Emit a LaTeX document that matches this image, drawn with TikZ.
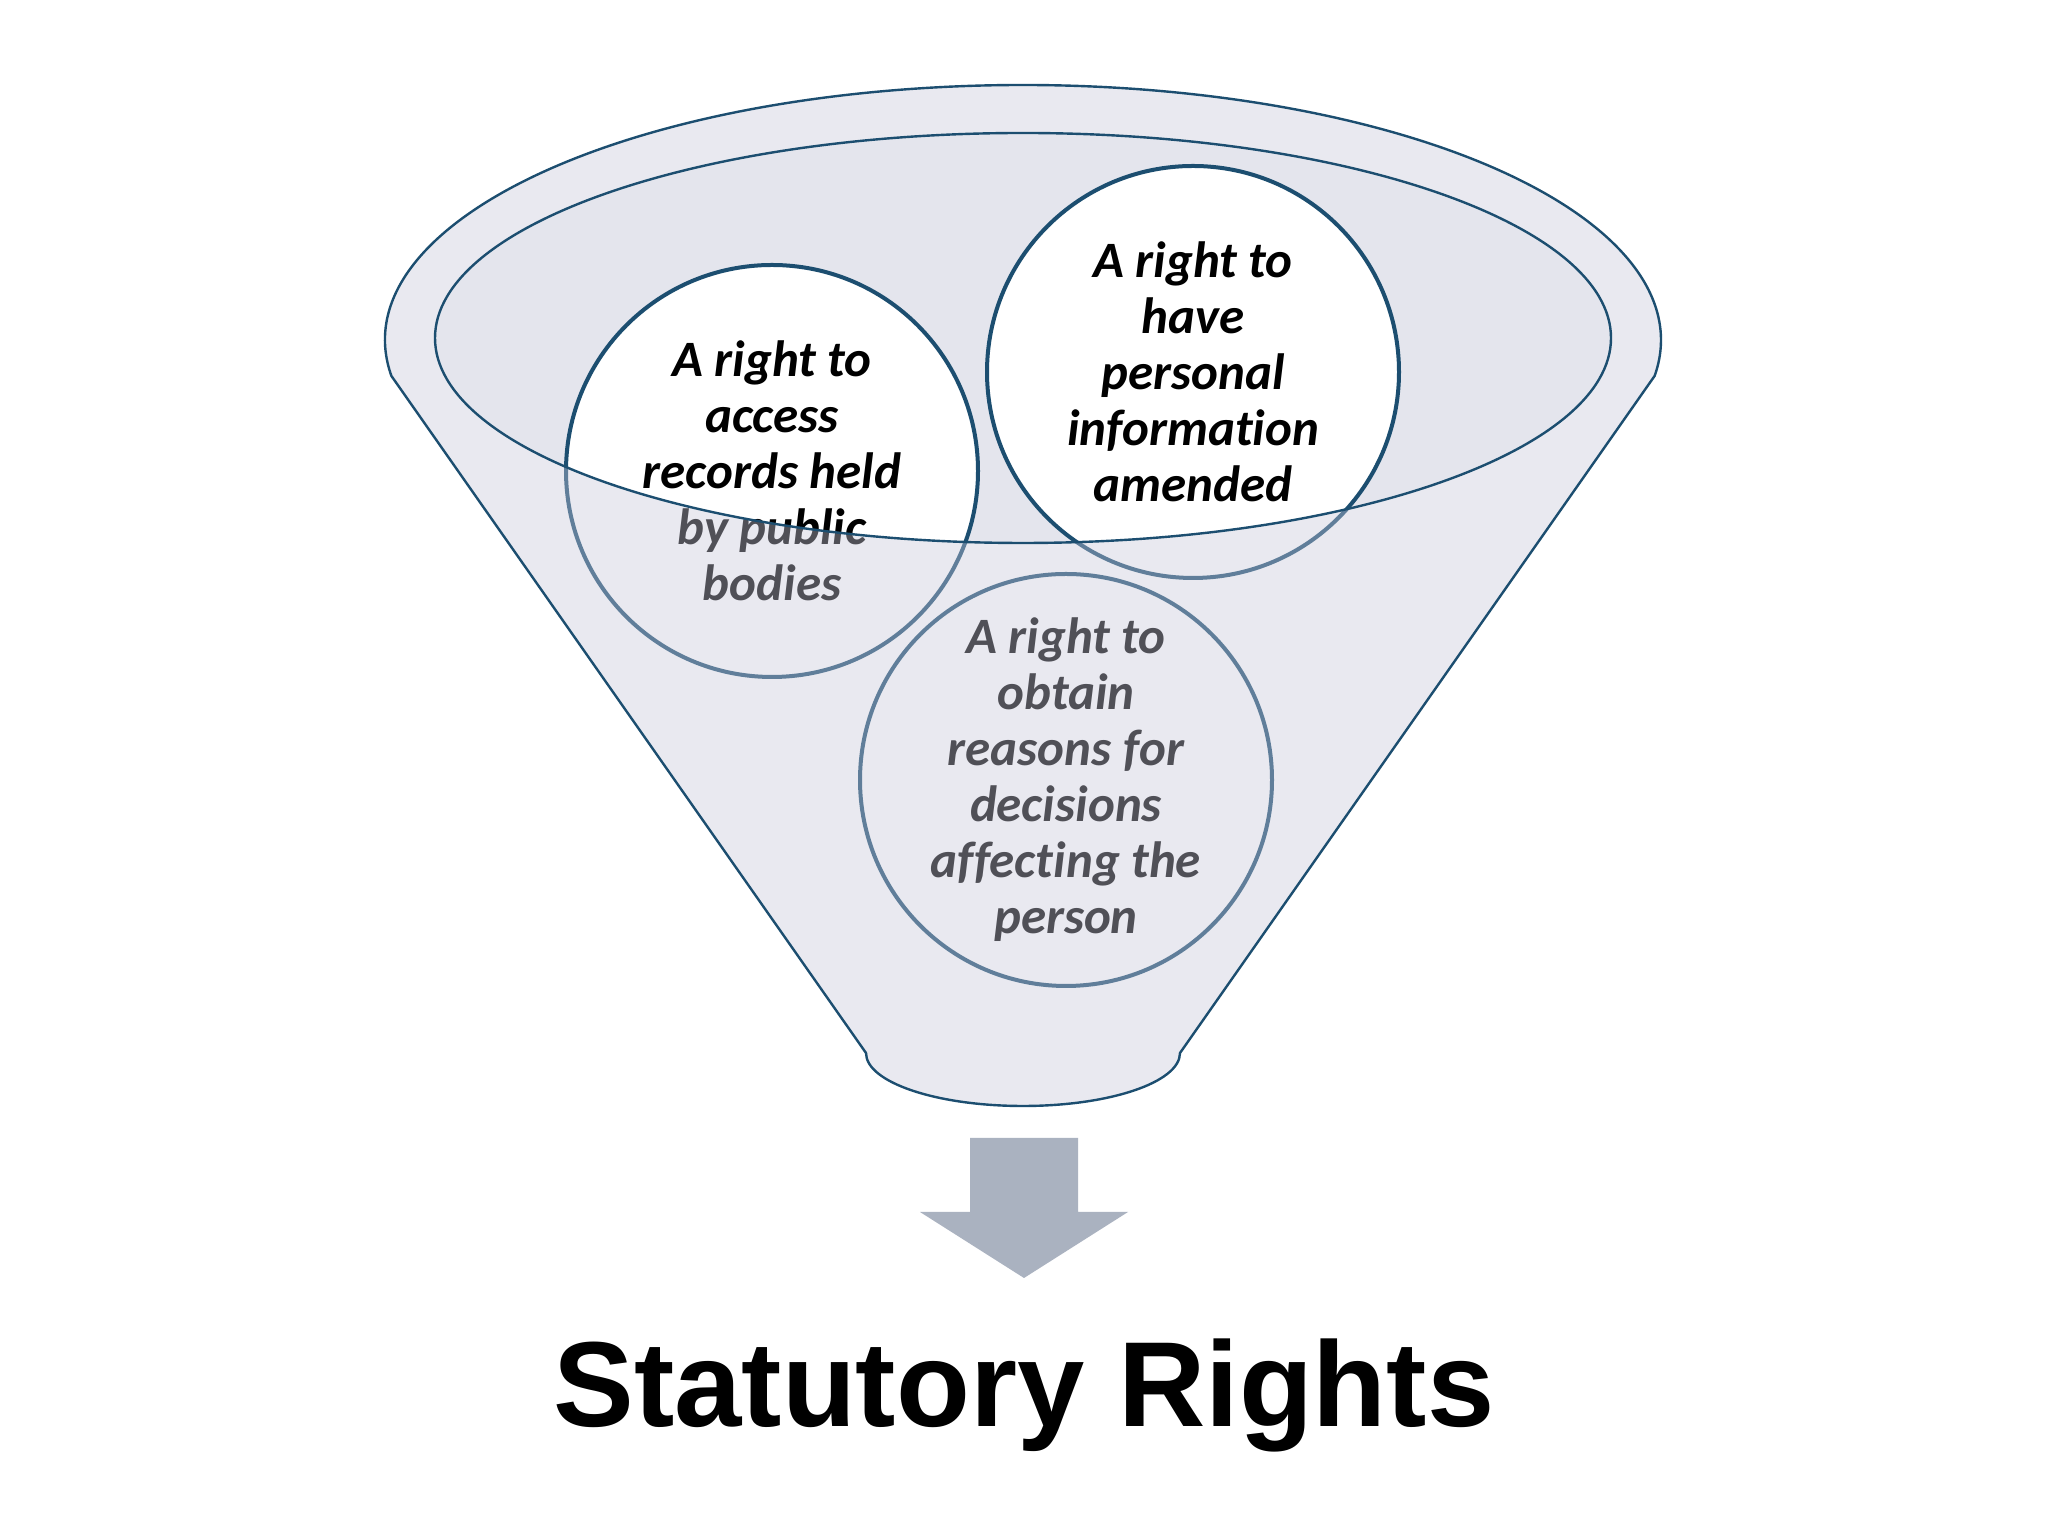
\documentclass[tikz,border=0pt]{standalone}
\usepackage{fontspec}
\setmainfont{Carlito}[Ligatures=NoCommon]
\newfontfamily\titlefont{Liberation Sans}
\usetikzlibrary{calc}
\definecolor{fblue}{RGB}{28,78,112}
\definecolor{fover}{RGB}{200,200,218}
\definecolor{finner}{RGB}{228,229,237}
\definecolor{farrow}{RGB}{170,178,192}
\begin{document}
\begin{tikzpicture}[x=1pt,y=1pt,
  circ/.style={circle, draw=fblue, line width=4pt, fill=white, minimum size=412pt, inner sep=0pt},
  ctext/.style={align=center, text=black, inner sep=0pt,
    font=\fontsize{51}{56}\selectfont\bfseries\itshape},
  outline/.style={draw=fblue, line width=2.4pt}
]
\useasboundingbox (0,0) rectangle (2048,1536);
\fill[white] (0,0) rectangle (2048,1536);
\coordinate (oc) at (1023,1196);
\coordinate (ic) at (1023,1198);
\coordinate (bc) at (1023,483);
% inner top of funnel
\fill[finner] (ic) ellipse [x radius=588, y radius=205];
% circles
\node[circ] (c1) at (772,1065) {};
\node[circ] (c2) at (1193,1164) {};
\node[circ] (c3) at (1066,756) {};
\node[ctext] (t1) at (c1.center) {A right to\\access\\records held\\by public\\bodies};
\node[ctext] (t2) at (c2.center) {A right to\\have\\personal\\information\\amended};
\node[ctext] (t3) at (c3.center) {A right to\\obtain\\reasons for\\decisions\\affecting the\\person};
% funnel body overlay
\fill[fover, fill opacity=0.4, even odd rule]
  ([shift={(188.1:638 and 255)}]oc) arc[start angle=188.1, end angle=-8.1, x radius=638, y radius=255]
  -- ([shift={(0:157 and 53)}]bc) arc[start angle=0, end angle=-180, x radius=157, y radius=53]
  -- cycle
  (ic) ellipse [x radius=588, y radius=205];
% outlines
\draw[outline]
  ([shift={(188.1:638 and 255)}]oc) arc[start angle=188.1, end angle=-8.1, x radius=638, y radius=255]
  -- ([shift={(0:157 and 53)}]bc) arc[start angle=0, end angle=-180, x radius=157, y radius=53]
  -- cycle;
\draw[outline] (ic) ellipse [x radius=588, y radius=205];
% arrow
\fill[farrow] (970,398) -- (1078,398) -- (1078,324) -- (1128,324) -- (1024,258)
  -- (920,324) -- (970,324) -- cycle;
% title
\node[font=\titlefont\bfseries\fontsize{121}{144}\selectfont, anchor=base, inner sep=0pt] (title) at (1024,109) {Statutory Rights};
\end{tikzpicture}
\end{document}
